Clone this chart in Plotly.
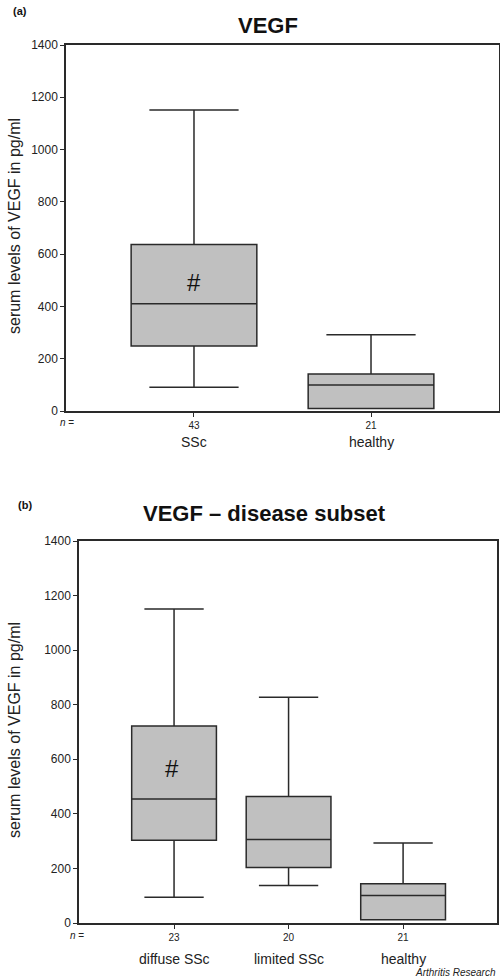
import plotly.graph_objects as go

# ---- data ----
cats_a = ["SSc", "healthy"]
n_a = ["43", "21"]
q1_a = [249, 10]
med_a = [410, 99]
q3_a = [637, 142]
lo_a = [91, 10]
hi_a = [1151, 292]

cats_b = ["diffuse SSc", "limited SSc", "healthy"]
n_b = ["23", "20", "21"]
q1_b = [303, 203, 12]
med_b = [454, 306, 101]
q3_b = [722, 464, 144]
lo_b = [94, 137, 12]
hi_b = [1151, 827, 293]

yticks = [0, 200, 400, 600, 800, 1000, 1200, 1400]

W, H = 500, 978
FONT = "Liberation Sans, Arial, sans-serif"
LINE = "#2a2a2a"
FILL = "#c0c0c0"

def py(px):
    return 1 - px / H

fig = go.Figure()

fig.add_trace(go.Box(
    x=cats_a, q1=q1_a, median=med_a, q3=q3_a, lowerfence=lo_a, upperfence=hi_a,
    xaxis="x", yaxis="y", width=0.71, whiskerwidth=0.71,
    fillcolor=FILL, line=dict(color=LINE, width=1.5), boxpoints=False,
    showlegend=False, hoverinfo="skip"))
fig.add_trace(go.Box(
    x=cats_b, q1=q1_b, median=med_b, q3=q3_b, lowerfence=lo_b, upperfence=hi_b,
    xaxis="x2", yaxis="y2", width=0.74, whiskerwidth=0.70,
    fillcolor=FILL, line=dict(color=LINE, width=1.5), boxpoints=False,
    showlegend=False, hoverinfo="skip"))

axcommon = dict(showline=True, mirror=True, linecolor=LINE, linewidth=1.5,
                showgrid=False, zeroline=False, ticks="outside", ticklen=4,
                tickcolor=LINE, tickwidth=1.2, automargin=False)

ytitle = "serum levels of VEGF in pg/ml"

fig.update_layout(
    width=W, height=H, margin=dict(l=0, r=0, t=0, b=0, autoexpand=False),
    paper_bgcolor="white", plot_bgcolor="white",
    font=dict(family=FONT, color="#222"),
    xaxis=dict(domain=[66 / W, 499 / W], anchor="y", type="category",
               range=[-0.723, 1.723], tickvals=cats_a, ticktext=n_a,
               tickfont=dict(size=10), **axcommon),
    yaxis=dict(domain=[py(411), py(45)], anchor="x", range=[0, 1400],
               tickvals=yticks, tickfont=dict(size=12), **axcommon),
    xaxis2=dict(domain=[79 / W, 497 / W], anchor="y2", type="category",
                range=[-0.83, 2.82], tickvals=cats_b, ticktext=n_b,
                tickfont=dict(size=10), **axcommon),
    yaxis2=dict(domain=[py(923), py(541)], anchor="x2", range=[0, 1400],
                tickvals=yticks, tickfont=dict(size=12), **axcommon),
)

ann = []
# y-axis titles
ann.append(dict(text=ytitle, x=14 / W, y=py(226), xref="paper", yref="paper", textangle=-90,
                showarrow=False, font=dict(size=16), xanchor="center", yanchor="middle"))
ann.append(dict(text=ytitle, x=14 / W, y=py(730), xref="paper", yref="paper", textangle=-90,
                showarrow=False, font=dict(size=16), xanchor="center", yanchor="middle"))
# titles and panel labels
ann.append(dict(text="<b>VEGF</b>", x=268 / W, y=py(25), xref="paper", yref="paper",
                showarrow=False, font=dict(size=22, color="#111"), xanchor="center", yanchor="middle"))
ann.append(dict(text="<b>VEGF – disease subset</b>", x=264 / W, y=py(513), xref="paper", yref="paper",
                showarrow=False, font=dict(size=22, color="#111"), xanchor="center", yanchor="middle"))
ann.append(dict(text="<b>(a)</b>", x=11 / W, y=py(11), xref="paper", yref="paper",
                showarrow=False, font=dict(size=11, color="#111"), xanchor="left", yanchor="middle"))
ann.append(dict(text="<b>(b)</b>", x=16 / W, y=py(505), xref="paper", yref="paper",
                showarrow=False, font=dict(size=11, color="#111"), xanchor="left", yanchor="middle"))
# n = labels
ann.append(dict(text="<i>n</i> =", x=58 / W, y=py(423), xref="paper", yref="paper",
                showarrow=False, font=dict(size=10), xanchor="left", yanchor="middle"))
ann.append(dict(text="<i>n</i> =", x=68 / W, y=py(935), xref="paper", yref="paper",
                showarrow=False, font=dict(size=10), xanchor="left", yanchor="middle"))
# category names
for c in cats_a:
    ann.append(dict(text=c, x=c, y=py(442), xref="x", yref="paper", showarrow=False,
                    font=dict(size=14), xanchor="center", yanchor="middle"))
for c in cats_b:
    ann.append(dict(text=c, x=c, y=py(959), xref="x2", yref="paper", showarrow=False,
                    font=dict(size=14), xanchor="center", yanchor="middle"))
# significance marks
ann.append(dict(text="#", x=cats_a[0], y=490, xref="x", yref="y", showarrow=False,
                font=dict(size=24, color="#111"), xanchor="center", yanchor="middle"))
ann.append(dict(text="#", x=cats_b[0], y=568, xref="x2", yref="y2", showarrow=False,
                font=dict(size=24, color="#111"), xshift=-2, xanchor="center", yanchor="middle"))
# source
ann.append(dict(text="<i>Arthritis Research</i>", x=498 / W, y=py(972), xref="paper", yref="paper",
                showarrow=False, font=dict(size=10, color="#222"), xanchor="right", yanchor="middle"))

fig.update_layout(annotations=ann)

fig.write_html("out.html", config={"displayModeBar": False},
               post_script="document.body.style.margin='0';document.body.style.padding='0';")
